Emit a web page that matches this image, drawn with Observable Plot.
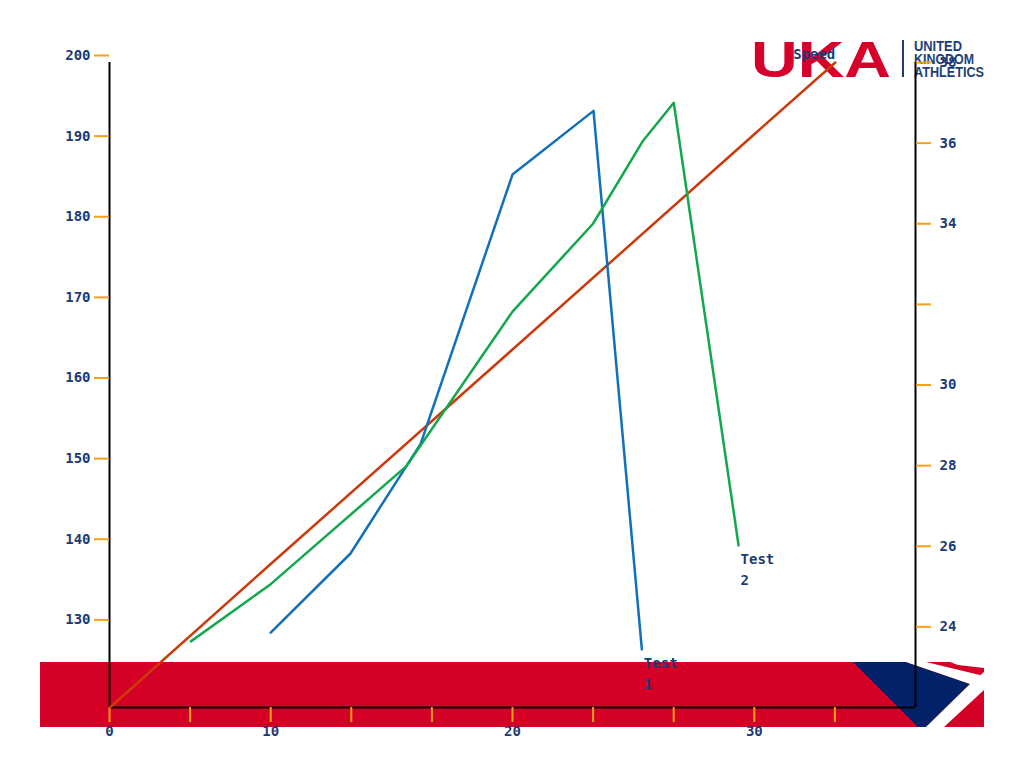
<!DOCTYPE html>
<html>
<head>
<meta charset="utf-8">
<script src="https://cdn.jsdelivr.net/npm/d3@7"></script>
<script src="https://cdn.jsdelivr.net/npm/@observablehq/plot@0.6"></script>
<style>
  html, body { margin: 0; padding: 0; background: #ffffff; }
  #wrap { position: relative; width: 1024px; height: 768px; overflow: hidden; }
  #bg { position: absolute; left: 0; top: 0; }
  #chart { position: absolute; left: 0; top: 0; }
</style>
</head>
<body>
<div id="wrap">
  <svg id="bg" width="1024" height="768" xmlns="http://www.w3.org/2000/svg">
    <rect x="40" y="662" width="944" height="65" fill="#d50025"/>
    <polygon points="853,662 906,662 970,684 926,727 918,727" fill="#012169"/>
    <polygon points="906,662 926,662 984,676 984,686 970,684" fill="#ffffff"/>
    <polygon points="970,684 984,672 984,690 944,727 926,727" fill="#ffffff"/>
    <polygon points="950,662 984,662 984,668 958,665" fill="#ffffff"/>
    <text x="751" y="77" fill="#d6002a" font-family="Liberation Sans, Arial, sans-serif" font-weight="bold" font-size="50" textLength="140" lengthAdjust="spacingAndGlyphs">UKA</text>
    <rect x="902" y="40" width="2" height="37" fill="#1d3f78"/>
    <g fill="#1d3f78" font-family="Liberation Sans, Arial, sans-serif" font-weight="bold" font-size="14">
      <text x="914" y="51" textLength="48" lengthAdjust="spacingAndGlyphs">UNITED</text>
      <text x="914" y="64" textLength="60" lengthAdjust="spacingAndGlyphs">KINGDOM</text>
      <text x="914" y="77" textLength="70" lengthAdjust="spacingAndGlyphs">ATHLETICS</text>
    </g>
  </svg>
  <div id="chart"></div>
</div>
<script>
// ---- data ----
const xTicks = [10/3, 20/3, 10, 40/3, 50/3, 20, 70/3, 80/3, 30, 100/3];
const xTickLabels = ["0", "", "10", "", "", "20", "", "", "30", ""];
const leftTicks = [130, 140, 150, 160, 170, 180, 190, 200];
const rightTicks = [24, 26, 28, 30, 32, 34, 36, 38];
const rightTickLabels = ["24", "26", "28", "30", "", "34", "36", "38"];

const test1X = [10.0, 13.3, 16.2, 20.0, 23.35, 25.35];
const test1Y = [129.3, 139.1, 152.7, 186.1, 194.0, 127.2];

const test2X = [6.7, 10.0, 15.6, 20.0, 23.33, 25.4, 26.67, 29.35];
const test2Y = [128.2, 135.3, 149.9, 169.1, 180.0, 190.3, 195.0, 140.1];

const speedX = [3.35, 10.0, 20.0, 30.0, 33.35];
const speedY = [120.0, 137.8, 164.4, 191.1, 200.0];

const seriesNames = ["Speed", "Test 1", "Test 2"];
const seriesLabels = ["Speed", "Test\n1", "Test\n2"];
const seriesColors = ["#cc3a0c", "#1170b9", "#13a84e"];

// ---- build table ----
const rows = [];
[[speedX, speedY], [test1X, test1Y], [test2X, test2Y]].forEach(([xs, ys], i) => {
  xs.forEach((x, j) => rows.push({series: seriesNames[i], label: seriesLabels[i], x, y: ys[j]}));
});

// right axis value -> left scale value
const toLeft = v => 120 + (v - 22) * 5;

const navy = "#1c3b74";
const orange = "#f5a118";

const chart = Plot.plot({
  width: 1024,
  height: 768,
  marginLeft: 109,
  marginRight: 109,
  marginTop: 62,
  marginBottom: 61,
  style: {background: "transparent", fontFamily: "DejaVu Sans Mono, monospace", fontSize: "14px", fontWeight: "bold", color: navy},
  x: {domain: [10/3, 110/3]},
  y: {domain: [120, 200]},
  color: {domain: seriesNames, range: seriesColors},
  marks: [
    Plot.ruleX([10/3, 110/3], {stroke: "#000", strokeWidth: 2}),
    Plot.ruleY([120], {stroke: "#000", strokeWidth: 2}),
    Plot.axisY(leftTicks, {anchor: "left", tickSize: 15, tickPadding: 4, stroke: orange, strokeWidth: 2, fill: navy, dy: -7, label: null, tickFormat: d => String(d)}),
    Plot.axisY(rightTicks.map(toLeft), {anchor: "right", tickSize: 15, tickPadding: 9, stroke: orange, strokeWidth: 2, fill: navy, label: null, tickFormat: (d, i) => rightTickLabels[i]}),
    Plot.axisX(xTicks, {anchor: "bottom", tickSize: 15, tickPadding: 4, stroke: orange, strokeWidth: 2, fill: navy, label: null, tickFormat: (d, i) => xTickLabels[i]}),
    Plot.line(rows, {x: "x", y: "y", z: "series", stroke: "series", strokeWidth: 2.5}),
    Plot.text(rows, Plot.selectLast({x: "x", y: "y", z: "series", text: "label",
      filter: d => d.series === "Speed", textAnchor: "end", dy: -8, fill: navy})),
    Plot.text(rows, Plot.selectLast({x: "x", y: "y", z: "series", text: "label",
      filter: d => d.series !== "Speed", textAnchor: "start", lineAnchor: "top", lineHeight: 1.5, dx: 2, dy: 4, fill: navy}))
  ]
});
document.getElementById("chart").appendChild(chart);
</script>
</body>
</html>
